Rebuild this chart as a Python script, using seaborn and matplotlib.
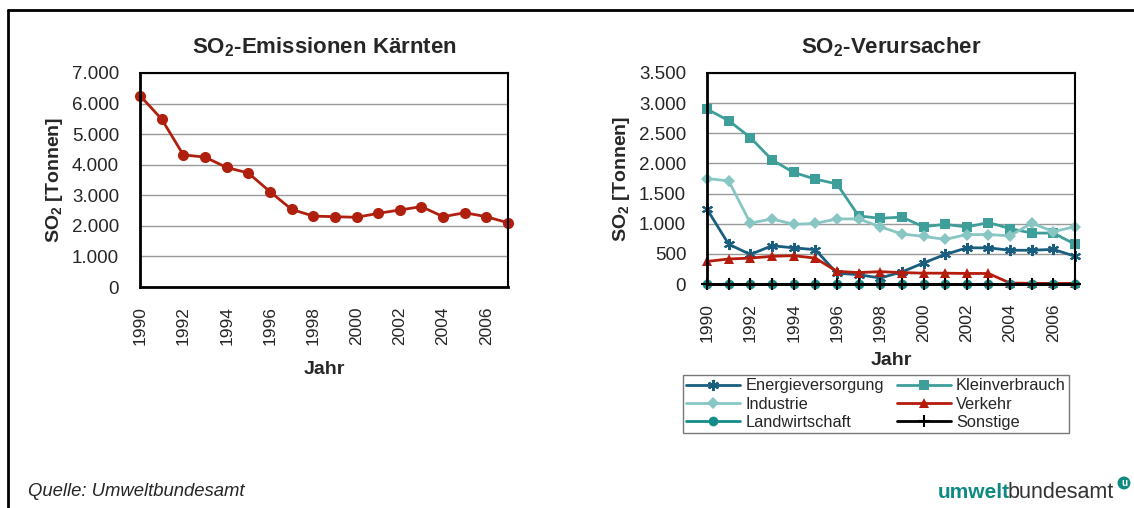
import numpy as np
import pandas as pd
import seaborn as sns
import matplotlib.pyplot as plt
from matplotlib.ticker import FuncFormatter, MultipleLocator
from matplotlib.lines import Line2D

# years and values
years = list(range(1990, 2008))

total = [6260, 5490, 4320, 4250, 3910, 3730, 3120, 2540, 2320, 2300,
         2280, 2410, 2520, 2630, 2300, 2430, 2300, 2100]

energie = [1240, 660, 490, 635, 600, 570, 180, 155, 100, 200,
           350, 490, 600, 600, 560, 560, 575, 460]
kleinverbrauch = [2900, 2710, 2430, 2060, 1850, 1740, 1660, 1130, 1090, 1110,
                  950, 990, 945, 1020, 920, 845, 845, 660]
industrie = [1750, 1710, 1010, 1080, 990, 1005, 1080, 1080, 950, 830,
             790, 740, 820, 820, 800, 1010, 870, 950]
verkehr = [375, 415, 430, 460, 470, 430, 210, 190, 205, 190,
           180, 180, 175, 175, 15, 12, 10, 10]
landwirtschaft = [0] * 18
sonstige = [0] * 18

sns.set_theme(style="white")
plt.rcParams["font.family"] = ["Liberation Sans", "DejaVu Sans"]
plt.rcParams["mathtext.fontset"] = "custom"
plt.rcParams["mathtext.rm"] = "Liberation Sans"
plt.rcParams["mathtext.bf"] = "Liberation Sans:bold"

fig = plt.figure(figsize=(11.34, 5.08), dpi=100)
ax1 = fig.add_axes([0.1235, 0.435, 0.3245, 0.4213])
ax2 = fig.add_axes([0.6235, 0.4409, 0.3245, 0.4154])

thousands = FuncFormatter(lambda v, p: f"{int(v):,}".replace(",", "."))


def style_axis(ax, ymax, ystep):
    ax.set_xlim(1990, 2007)
    ax.set_ylim(0, ymax)
    ax.yaxis.set_major_locator(MultipleLocator(ystep))
    ax.yaxis.set_major_formatter(thousands)
    ax.set_xticks(range(1990, 2008))
    ax.set_xticklabels([str(y) if y % 2 == 0 else "" for y in years],
                       rotation=90, fontsize=12.5)
    ax.tick_params(axis="y", labelsize=13.5, length=7, color="#888888", pad=8)
    ax.tick_params(axis="x", length=5, color="black", direction="out", pad=9)
    ax.grid(axis="y", color="#999999", linewidth=1)
    ax.set_axisbelow(True)
    for s in ax.spines.values():
        s.set_color("black")
        s.set_linewidth(1.5)
    ax.spines["bottom"].set_linewidth(2)
    ax.spines["left"].set_linewidth(2)
    ax.set_xlabel("Jahr", fontsize=14, fontweight="bold", labelpad=11)
    ax.set_ylabel(r"SO$_\mathbf{2}$ [Tonnen]", fontsize=14, fontweight="bold",
                  labelpad=5)


# left chart: total emissions
sns.lineplot(x=years, y=total, ax=ax1, color="#B0200E", linewidth=2,
             marker="o", markersize=8, markeredgewidth=0, clip_on=False)
style_axis(ax1, 7000, 1000)
ax1.set_title(r"SO$_\mathbf{2}$-Emissionen Kärnten", fontsize=16,
              fontweight="bold", pad=14)

# right chart: sources
series = [
    ("Energieversorgung", energie, "#195E7E", (6, 2, 0), 8),
    ("Kleinverbrauch", kleinverbrauch, "#3D9E9A", "s", 7),
    ("Industrie", industrie, "#88C6C4", "D", 6),
    ("Verkehr", verkehr, "#B51C0C", "^", 7.5),
    ("Landwirtschaft", landwirtschaft, "#138C8A", "o", 7),
    ("Sonstige", sonstige, "black", "+", 8),
]
handles = {}
for name, vals, col, mk, ms in series:
    mew = 1.5 if mk in ("+", (6, 2, 0)) else 0
    sns.lineplot(x=years, y=vals, ax=ax2, color=col, linewidth=2, marker=mk,
                 markersize=ms, markeredgewidth=mew, markeredgecolor=col,
                 clip_on=False)
    handles[name] = Line2D([], [], color=col, linewidth=2, marker=mk,
                           markersize=ms, markeredgecolor=col,
                           markeredgewidth=mew)
style_axis(ax2, 3500, 500)
ax2.set_title(r"SO$_\mathbf{2}$-Verursacher", fontsize=16, fontweight="bold",
              pad=14)
ax2.xaxis.labelpad = 7

order = ["Energieversorgung", "Industrie", "Landwirtschaft",
         "Kleinverbrauch", "Verkehr", "Sonstige"]
leg = fig.legend([handles[n] for n in order], order, ncol=2,
                 loc="upper left", bbox_to_anchor=(683 / 1134, 1 - 375 / 508),
                 fontsize=11.8, frameon=True, fancybox=False,
                 handlelength=3.3, handletextpad=0.3, columnspacing=0.8,
                 labelspacing=0.2, borderpad=0.2, borderaxespad=0)
leg.get_frame().set_edgecolor("#555555")
leg.get_frame().set_linewidth(1)

# outer frame lines (top and left)
fig.add_artist(Line2D([8 / 1134, 1], [1 - 10 / 508] * 2, color="black",
                      linewidth=2, transform=fig.transFigure))
fig.add_artist(Line2D([8 / 1134] * 2, [0, 1 - 10 / 508], color="black",
                      linewidth=2, transform=fig.transFigure))

fig.text(28 / 1134, 1 - 492 / 508, "Quelle: Umweltbundesamt", fontsize=13.3,
         style="italic", va="center")
fig.text(938 / 1134, 1 - 493 / 508, "umwelt", fontsize=15, fontweight="bold",
         color="#0E8A82", va="center")
fig.text(1008 / 1134, 1 - 493 / 508, "bundesamt", fontsize=15.5,
         color="#333333", va="center")
fig.text(1124 / 1134, 1 - 483 / 508, "u", fontsize=7, fontweight="bold",
         color="white", ha="center", va="center",
         bbox=dict(boxstyle="circle,pad=0.15", fc="#0E8A82", ec="none"))

fig.savefig("out.png", dpi=100)
